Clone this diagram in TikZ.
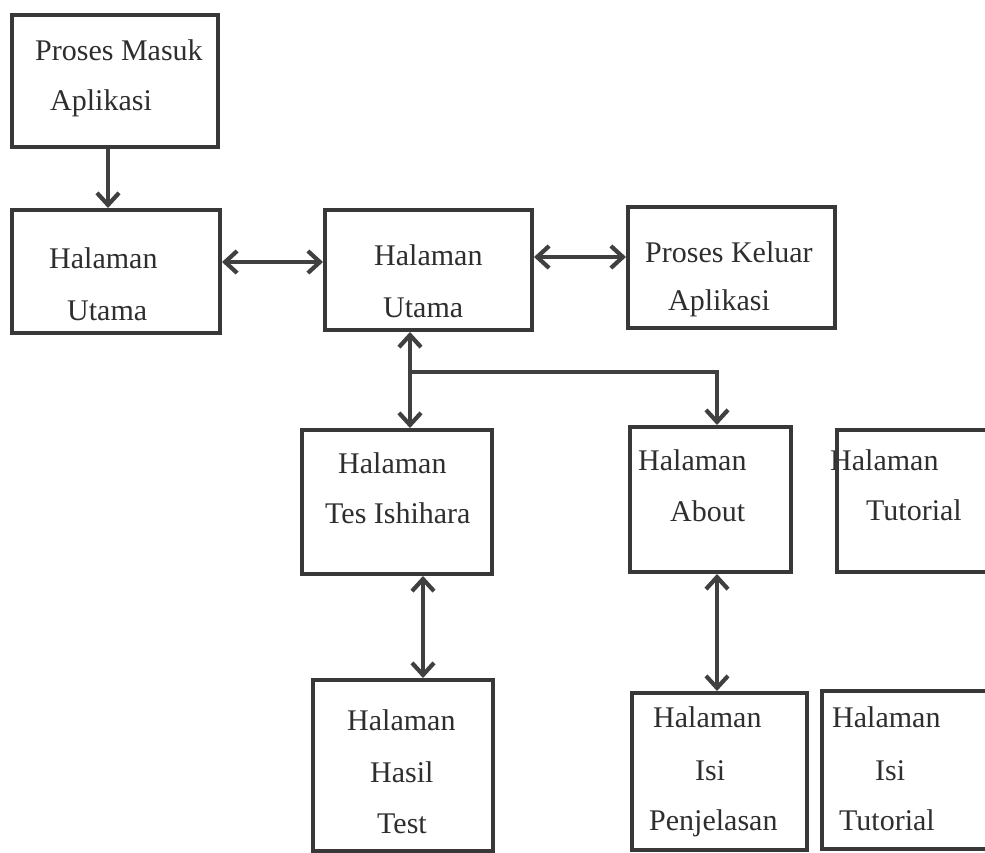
\documentclass[tikz,border=0pt]{standalone}
\usepackage{fontspec}
\setmainfont{Liberation Serif}
\usetikzlibrary{arrows.meta}
\begin{document}
\begin{tikzpicture}[x=1pt,y=-1pt,
  box/.style={draw=black!78, line width=4pt, rectangle, inner sep=0pt},
  lbl/.style={anchor=base west, inner sep=0pt, text=black!82, font=\fontsize{30}{34}\selectfont},
  conn/.style={draw=black!75, line width=3.8pt},
  barb/.tip={Straight Barb[length=12pt,width=22pt,line width=4.2pt]}
]
\useasboundingbox (0,0) rectangle (985,852);
\clip (0,0) rectangle (985,852);
\fill[white] (0,0) rectangle (985,852);

% boxes
\node[box, minimum width=206pt, minimum height=132pt] (pm) at (115,81) {};
\node[box, minimum width=208pt, minimum height=123pt] (hu1) at (116,271.5) {};
\node[box, minimum width=207pt, minimum height=120pt] (hu2) at (428.5,270) {};
\node[box, minimum width=207pt, minimum height=121pt] (pk) at (731.5,267.5) {};
\node[box, minimum width=190pt, minimum height=144pt] (tes) at (397,502) {};
\node[box, minimum width=161pt, minimum height=145pt] (about) at (710.5,499.5) {};
\node[box, minimum width=180pt, minimum height=171pt] (hasil) at (403,765.5) {};
\node[box, minimum width=175pt, minimum height=157pt] (penj) at (719.5,771.5) {};

% labels
\node[lbl] (t1a) at (35,60) {Proses Masuk};
\node[lbl] (t1b) at (50,110) {Aplikasi};
\node[lbl] (t2a) at (49,268) {Halaman};
\node[lbl] (t2b) at (67,320) {Utama};
\node[lbl] (t3a) at (374,265) {Halaman};
\node[lbl] (t3b) at (383,317) {Utama};
\node[lbl] (t4a) at (645,262) {Proses Keluar};
\node[lbl] (t4b) at (668,310) {Aplikasi};
\node[lbl] (t5a) at (338,473) {Halaman};
\node[lbl] (t5b) at (325,523) {Tes Ishihara};
\node[lbl] (t6a) at (638,470) {Halaman};
\node[lbl] (t6b) at (670,521) {About};
\node[lbl] (t7a) at (830,470) {Halaman};
\node[lbl] (t7b) at (866,520) {Tutorial};
\node[lbl] (t8a) at (347,730) {Halaman};
\node[lbl] (t8b) at (370,782) {Hasil};
\node[lbl] (t8c) at (377,833) {Test};
\node[lbl] (t9a) at (653,727) {Halaman};
\node[lbl] (t9b) at (695,780) {Isi};
\node[lbl] (t9c) at (649,830) {Penjelasan};
\node[lbl] (t10a) at (832,727) {Halaman};
\node[lbl] (t10b) at (875,780) {Isi};
\node[lbl] (t10c) at (839,830) {Tutorial};

% boxes running past the right edge (drawn after text so the border overlaps)
\node[box, minimum width=170pt, minimum height=142pt] (tut) at (922,501) {};
\node[box, minimum width=180pt, minimum height=158pt] (isitut) at (912,770) {};

% connectors
\draw[conn, -{barb}] ([xshift=-7pt]pm.south) -- ([xshift=-7pt]pm.south |- hu1.north);
\draw[conn, {barb}-{barb}] ([yshift=9.5pt]hu1.east) -- ([yshift=9.5pt]hu1.east -| hu2.west);
\draw[conn, {barb}-{barb}] ([yshift=13pt]hu2.east) -- ([yshift=13pt]hu2.east -| pk.west);
\draw[conn, {barb}-{barb}] ([xshift=-18.5pt]hu2.south) -- ([xshift=-18.5pt]hu2.south |- tes.north);
\coordinate (br) at (410,372);
\draw[conn, -{barb}] (br) -| ([xshift=6.5pt]about.north);
\draw[conn, {barb}-{barb}] ([xshift=26pt]tes.south) -- ([xshift=26pt]tes.south |- hasil.north);
\draw[conn, {barb}-{barb}] ([xshift=6.5pt]about.south) -- ([xshift=6.5pt]about.south |- penj.north);
\end{tikzpicture}
\end{document}
